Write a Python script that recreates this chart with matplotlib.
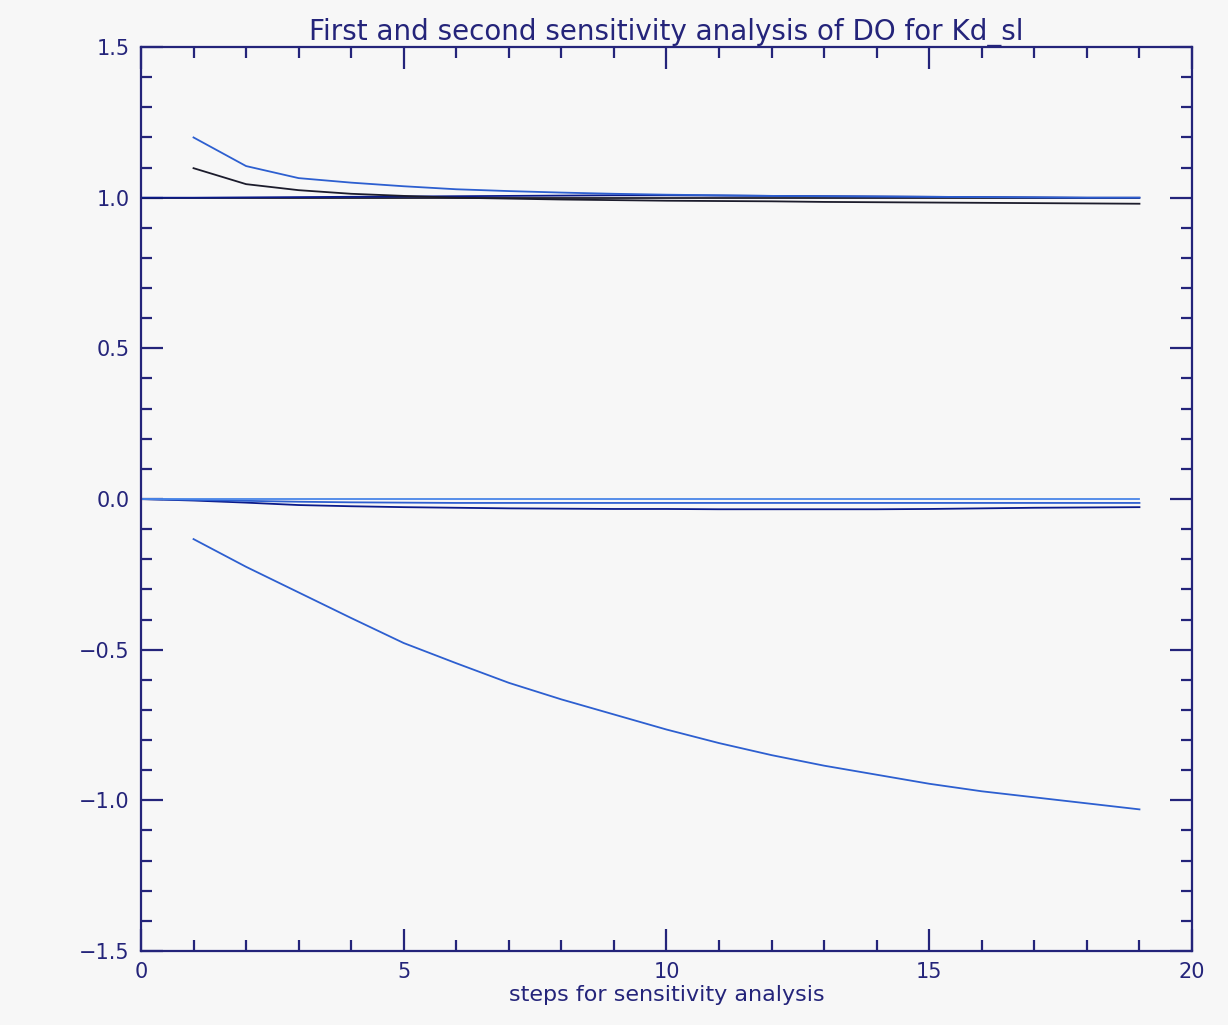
import numpy as np
import matplotlib
matplotlib.use('Agg')
import matplotlib.pyplot as plt
from matplotlib.ticker import MultipleLocator


### sensitivity series ###
steps = [1, 2, 3, 4, 5, 6, 7, 8, 9, 10, 11, 12, 13, 14, 15, 16, 17, 18, 19]
full_steps = [0, 1, 2, 3, 4, 5, 6, 7, 8, 9, 10, 11, 12, 13, 14, 15, 16, 17, 18, 19]

second_blue = [1.200, 1.105, 1.065, 1.050, 1.038, 1.028, 1.022, 1.017, 1.013, 1.010,
               1.008, 1.006, 1.005, 1.004, 1.003, 1.002, 1.001, 1.000, 1.000]
second_black = [1.098, 1.045, 1.025, 1.013, 1.006, 1.000, 0.997, 0.994, 0.992, 0.990,
                0.989, 0.988, 0.986, 0.985, 0.984, 0.983, 0.982, 0.981, 0.980]
second_ref = [1.0] * 20
second_navy = [1.000, 1.000, 1.001, 1.002, 1.003, 1.004, 1.005, 1.006, 1.007, 1.008,
               1.008, 1.007, 1.006, 1.005, 1.004, 1.003, 1.002, 1.001, 1.000, 1.000]

first_ref = [0.0] * 20
first_blue = [0.000, -0.003, -0.006, -0.009, -0.011, -0.012, -0.013, -0.013, -0.013, -0.013,
              -0.013, -0.013, -0.013, -0.013, -0.013, -0.013, -0.013, -0.013, -0.013, -0.013]
first_navy = [0.000, -0.005, -0.012, -0.020, -0.024, -0.027, -0.029, -0.031, -0.032, -0.033,
              -0.033, -0.034, -0.034, -0.034, -0.034, -0.033, -0.031, -0.029, -0.028, -0.027]
first_lower = [-0.133, -0.225, -0.310, -0.395, -0.478, -0.545, -0.610, -0.665, -0.715, -0.765,
               -0.810, -0.850, -0.885, -0.915, -0.945, -0.970, -0.990, -1.010, -1.030]

bg = '#f7f7f7'
frame = '#24247a'
blue = '#2d5fd0'
lightblue = '#4a86e8'
navy = '#0a1a8a'
black = '#1c1c2c'

fig = plt.figure(figsize=(12.28, 10.25), dpi=100, facecolor=bg)
ax = fig.add_axes([0.1148, 0.0722, 0.8559, 0.8819], facecolor=bg)

lw = 1.3
ax.plot(full_steps, second_ref, color=black, lw=lw)
ax.plot(full_steps, second_navy, color=navy, lw=lw)
ax.plot(steps, second_black, color=black, lw=lw)
ax.plot(steps, second_blue, color=blue, lw=lw)

ax.plot(full_steps, first_navy, color=navy, lw=lw)
ax.plot(full_steps, first_blue, color=blue, lw=lw)
ax.plot(full_steps, first_ref, color=lightblue, lw=lw)
ax.plot(steps, first_lower, color=blue, lw=lw)

ax.set_xlim(0, 20)
ax.set_ylim(-1.5, 1.5)
ax.xaxis.set_major_locator(MultipleLocator(5))
ax.xaxis.set_minor_locator(MultipleLocator(1))
ax.yaxis.set_major_locator(MultipleLocator(0.5))
ax.yaxis.set_minor_locator(MultipleLocator(0.1))
ax.yaxis.set_major_formatter(plt.FuncFormatter(lambda v, p: f'{v:.1f}'.replace('-', '\u2212')))

for s in ax.spines.values():
    s.set_color(frame)
    s.set_linewidth(1.6)

ax.tick_params(which='both', direction='in', top=True, right=True, color=frame,
               labelcolor=frame, labelsize=15, width=1.6)
ax.tick_params(which='major', length=16, pad=8)
ax.tick_params(which='minor', length=8)

ax.set_title('First and second sensitivity analysis of DO for Kd_sl', color=frame,
             fontsize=20, pad=5)
ax.set_xlabel('steps for sensitivity analysis', color=frame, fontsize=16, labelpad=2)

fig.savefig('out.png', dpi=100, facecolor=bg)
